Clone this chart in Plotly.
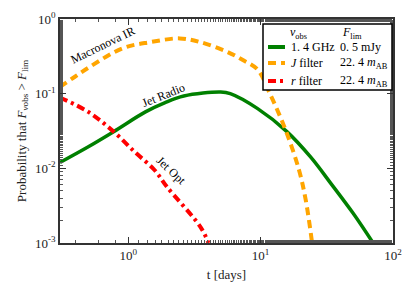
import plotly.graph_objects as go

# ---- data ----
t_J = [0.305, 0.383, 0.513, 0.912, 1.47, 2.45, 3.5, 5.6, 7.4, 9.5, 11.7, 15.5, 19.5, 21.9, 24.5]
p_J = [0.123, 0.162, 0.229, 0.407, 0.49, 0.55, 0.49, 0.363, 0.28, 0.21, 0.102, 0.032, 0.0095, 0.0038, 0.001]

t_radio = [0.305, 0.50, 0.776, 1.35, 1.9, 2.63, 5.0, 5.9, 9.5, 15.8, 24.0, 33.9, 50.0, 70.8]
p_radio = [0.012, 0.0195, 0.031, 0.057, 0.076, 0.093, 0.105, 0.1, 0.063, 0.031, 0.014, 0.0063, 0.0025, 0.001]

t_r = [0.305, 0.50, 0.776, 1.12, 1.58, 1.97, 3.5, 4.04]
p_r = [0.089, 0.057, 0.031, 0.0166, 0.0095, 0.0056, 0.00166, 0.001]

legend_names = ["1. 4 GHz", "<i>J</i> filter", "<i>r</i> filter"]
legend_flim = ["0. 5 mJy", "22. 4 <i>m</i><sub>AB</sub>", "22. 4 <i>m</i><sub>AB</sub>"]
xtick_vals = [1, 10, 100]
xtick_text = ["10<sup>0</sup>", "10<sup>1</sup>", "10<sup>2</sup>"]
ytick_vals = [0.001, 0.01, 0.1, 1]
ytick_text = ["10<sup>-3</sup>", "10<sup>-2</sup>", "10<sup>-1</sup>", "10<sup>0</sup>"]

FONT = "Liberation Serif"
colors = ["green", "orange", "red"]
dashes = ["solid", "8px,5px", "8px,4px,3px,4px"]

fig = go.Figure()
fig.add_trace(go.Scatter(x=t_radio, y=p_radio, mode="lines",
                         line=dict(color=colors[0], width=3.5, shape="spline", dash=dashes[0])))
fig.add_trace(go.Scatter(x=t_J, y=p_J, mode="lines",
                         line=dict(color=colors[1], width=4, shape="spline", dash=dashes[1])))
fig.add_trace(go.Scatter(x=t_r, y=p_r, mode="lines",
                         line=dict(color=colors[2], width=4, shape="spline", dash=dashes[2])))

axis_common = dict(ticks="inside", ticklen=6, tickwidth=1, tickcolor="#333",
                   showline=True, linecolor="#333", linewidth=1.5, mirror="allticks",
                   showgrid=False, zeroline=False, automargin=False,
                   minor=dict(ticks="inside", ticklen=3, tickcolor="#555", showgrid=False),
                   tickfont=dict(family=FONT, size=13, color="#222"))

fig.update_xaxes(type="log", range=[-0.515, 2.0], tickvals=xtick_vals, ticktext=xtick_text,
                 title=dict(text="t [days]", font=dict(family=FONT, size=13, color="#222"), standoff=8),
                 **axis_common)
fig.update_yaxes(type="log", range=[-3, 0], tickvals=ytick_vals, ticktext=ytick_text,
                 title=dict(text="Probability that <i>F</i><sub><i>ν</i>obs</sub> > <i>F</i><sub>lim</sub>",
                            font=dict(family=FONT, size=13, color="#222"), standoff=6),
                 **axis_common)

# curve labels
fig.add_annotation(x=-0.19, y=-0.35, text="Macronova IR", textangle=-26, showarrow=False,
                   font=dict(family=FONT, size=12, color="black"))
fig.add_annotation(x=0.27, y=-1.02, text="Jet Radio", textangle=-22, showarrow=False,
                   font=dict(family=FONT, size=12, color="black"))
fig.add_annotation(x=0.33, y=-2.03, text="Jet Opt", textangle=43, showarrow=False,
                   font=dict(family=FONT, size=12, color="black"))

# manual legend
W, H = 415, 291
L, R, T, B = 60, 22, 19, 48
pw, ph = W - L - R, H - T - B
def px(x): return (x - L) / pw
def py(y): return (H - B - y) / ph

fig.add_shape(type="rect", xref="paper", yref="paper", x0=px(263), x1=px(392), y0=py(90), y1=py(24),
              line=dict(color="black", width=1.5), fillcolor="white", layer="above")
fig.add_annotation(xref="paper", yref="paper", x=px(298), y=py(33), text="<i>ν</i><sub>obs</sub>",
                   xanchor="center", yanchor="middle",
                   showarrow=False, font=dict(family=FONT, size=12, color="black"))
fig.add_annotation(xref="paper", yref="paper", x=px(352), y=py(33), text="<i>F</i><sub>lim</sub>",
                   xanchor="center", yanchor="middle",
                   showarrow=False, font=dict(family=FONT, size=12, color="black"))
rows = [47, 63, 81]
for i in range(3):
    fig.add_shape(type="line", xref="paper", yref="paper", x0=px(268), x1=px(285), y0=py(rows[i]), y1=py(rows[i]),
                  line=dict(color=colors[i], width=4, dash=dashes[i]), layer="above")
    fig.add_annotation(xref="paper", yref="paper", x=px(289), y=py(rows[i]), text=legend_names[i],
                       xanchor="left", yanchor="middle", showarrow=False,
                       font=dict(family=FONT, size=12, color="black"))
    fig.add_annotation(xref="paper", yref="paper", x=px(338), y=py(rows[i]), text=legend_flim[i],
                       xanchor="left", yanchor="middle", showarrow=False,
                       font=dict(family=FONT, size=12, color="black"))

fig.update_layout(width=W, height=H, margin=dict(l=L, r=R, t=T, b=B, autoexpand=False),
                  plot_bgcolor="white", paper_bgcolor="white", showlegend=False)
fig.write_html("out.html", config={"displayModeBar": False},
               post_script="document.body.style.margin='0';document.body.style.overflow='hidden';")
